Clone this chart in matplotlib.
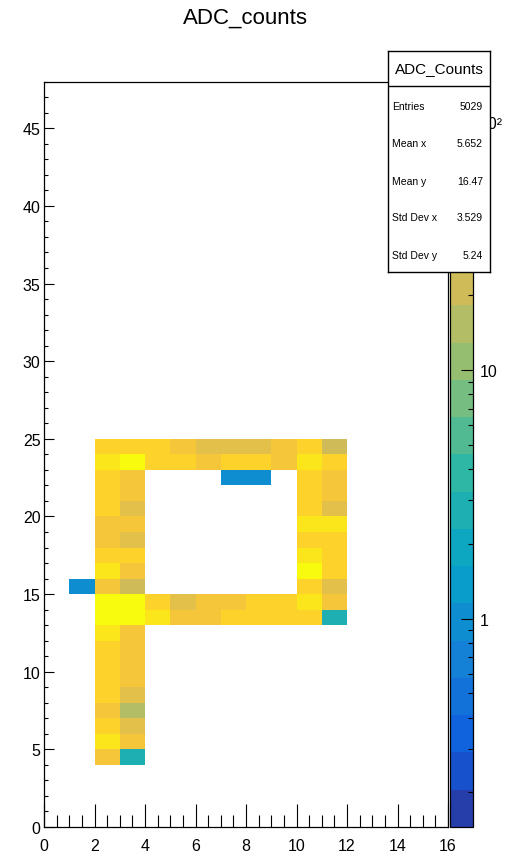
import numpy as np
import matplotlib
matplotlib.use('Agg')
import matplotlib.pyplot as plt
from matplotlib.colors import ListedColormap, LogNorm

plt.rcParams['font.family'] = ['Liberation Sans', 'DejaVu Sans']

# bin contents (bin width 1): rows are y bins 24 .. 4, columns are x bins 1 .. 11
row_y = list(range(24, 3, -1))
col_x = list(range(1, 12))
counts = [
    [0, 60, 60, 60, 44, 30, 30, 30, 44, 60, 22],     # y 24
    [0, 80, 110, 60, 60, 44, 60, 60, 44, 80, 60],    # y 23
    [0, 60, 44, 0, 0, 0, 1, 1, 0, 60, 44],           # y 22
    [0, 60, 44, 0, 0, 0, 0, 0, 0, 60, 44],           # y 21
    [0, 60, 30, 0, 0, 0, 0, 0, 0, 60, 30],           # y 20
    [0, 44, 44, 0, 0, 0, 0, 0, 0, 80, 80],           # y 19
    [0, 44, 30, 0, 0, 0, 0, 0, 0, 60, 60],           # y 18
    [0, 60, 60, 0, 0, 0, 0, 0, 0, 80, 60],           # y 17
    [0, 80, 44, 0, 0, 0, 0, 0, 0, 110, 60],          # y 16
    [1, 44, 22, 0, 0, 0, 0, 0, 0, 60, 30],           # y 15
    [0, 110, 110, 60, 30, 44, 44, 60, 60, 80, 44],   # y 14
    [0, 110, 110, 80, 44, 44, 60, 60, 60, 60, 3],    # y 13
    [0, 80, 44, 0, 0, 0, 0, 0, 0, 0, 0],             # y 12
    [0, 60, 44, 0, 0, 0, 0, 0, 0, 0, 0],             # y 11
    [0, 60, 44, 0, 0, 0, 0, 0, 0, 0, 0],             # y 10
    [0, 60, 44, 0, 0, 0, 0, 0, 0, 0, 0],             # y 9
    [0, 60, 30, 0, 0, 0, 0, 0, 0, 0, 0],             # y 8
    [0, 44, 15, 0, 0, 0, 0, 0, 0, 0, 0],             # y 7
    [0, 60, 30, 0, 0, 0, 0, 0, 0, 0, 0],             # y 6
    [0, 80, 44, 0, 0, 0, 0, 0, 0, 0, 0],             # y 5
    [0, 44, 3, 0, 0, 0, 0, 0, 0, 0, 0],              # y 4
]

stat_names = ['Entries', 'Mean x', 'Mean y', 'Std Dev x', 'Std Dev y']
stat_values = ['5029', '5.652', '16.47', '3.529', '5.24']

# ROOT kBird palette, 20 contour bands
stops = [0.0, 0.125, 0.25, 0.375, 0.5, 0.625, 0.75, 0.875, 1.0]
red = [0.2082, 0.0592, 0.0780, 0.0232, 0.1802, 0.5301, 0.8186, 0.9956, 0.9764]
green = [0.1664, 0.3599, 0.5041, 0.6419, 0.7178, 0.7492, 0.7328, 0.7862, 0.9832]
blue = [0.5293, 0.8684, 0.8385, 0.7914, 0.6425, 0.4662, 0.3499, 0.1968, 0.0539]
pos = np.clip((np.arange(20) + 0.99) / 20, 0, 1)
band_colors = np.column_stack([np.interp(pos, stops, red),
                               np.interp(pos, stops, green),
                               np.interp(pos, stops, blue)])
cmap = ListedColormap(band_colors)
norm = LogNorm(vmin=0.145, vmax=145)

grid = np.zeros((48, 16))
for r, y in enumerate(row_y):
    for c, x in enumerate(col_x):
        grid[y, x] = counts[r][c]
grid = np.ma.masked_less_equal(grid, 0)

W, H = 505, 862
fig = plt.figure(figsize=(W / 100, H / 100), dpi=100)

ax = fig.add_axes([44 / W, 1 - 828 / H, 404 / W, 745.3 / H])
mesh = ax.pcolormesh(np.arange(17), np.arange(49), grid, cmap=cmap, norm=norm,
                     edgecolors='none', antialiased=False)
ax.set_xlim(0, 16)
ax.set_ylim(0, 48)
ax.set_xticks(range(0, 17, 2))
ax.set_xticks(np.arange(0, 16.01, 0.5), minor=True)
ax.set_yticks(range(0, 46, 5))
ax.set_yticks(range(0, 49), minor=True)
ax.tick_params(axis='x', which='major', direction='in', length=16.5, width=0.8,
               labelsize=11.5, pad=8)
ax.tick_params(axis='x', which='minor', direction='in', length=8.5, width=0.8)
ax.tick_params(axis='y', which='major', direction='in', length=7.2, width=0.8,
               labelsize=11.5, pad=2.5)
ax.tick_params(axis='y', which='minor', direction='in', length=3.2, width=0.8)
for s in ax.spines.values():
    s.set_linewidth(0.9)

# palette
cax = fig.add_axes([450 / W, 1 - 828 / H, 23.3 / W, 745.3 / H])
cb = fig.colorbar(mesh, cax=cax)
cb.outline.set_linewidth(0.9)
cax.set_yticks([1, 10, 100], labels=['1', '10', '10\u00b2'])
minor = [m * d for d in (0.1, 1, 10) for m in range(2, 10) if 0.145 <= m * d <= 145]
cax.set_yticks(minor, minor=True)
cax.yaxis.set_minor_formatter(matplotlib.ticker.NullFormatter())
cax.tick_params(axis='y', which='major', direction='in', length=8.4, width=0.8,
                labelsize=11.5, pad=5)
cax.tick_params(axis='y', which='minor', direction='in', length=3.6, width=0.8)

# stats box
bx0, bx1, by0, by1 = 388.3, 490, 52.3, 273.3
sax = fig.add_axes([bx0 / W, 1 - by1 / H, (bx1 - bx0) / W, (by1 - by0) / H])
sax.set_zorder(10)
sax.set_xticks([])
sax.set_yticks([])
sax.set_xlim(0, 1)
sax.set_ylim(0, 1)
for s in sax.spines.values():
    s.set_linewidth(1.0)
bh = by1 - by0
sax.axhline((by1 - 87.3) / bh, color='black', lw=1.0)
sax.text(0.5, (by1 - 69.5) / bh, 'ADC_Counts', ha='center', va='center', fontsize=11)
for name, val, yy in zip(stat_names, stat_values, [106.7, 144, 181.7, 218.3, 256]):
    sax.text(0.036, (by1 - yy) / bh, name, ha='left', va='center', fontsize=7.5)
    sax.text(0.93, (by1 - yy) / bh, val, ha='right', va='center', fontsize=7.5)

fig.text(245 / W, 1 - 18 / H, 'ADC_counts', ha='center', va='center', fontsize=16)

fig.savefig('out.png', dpi=100)
